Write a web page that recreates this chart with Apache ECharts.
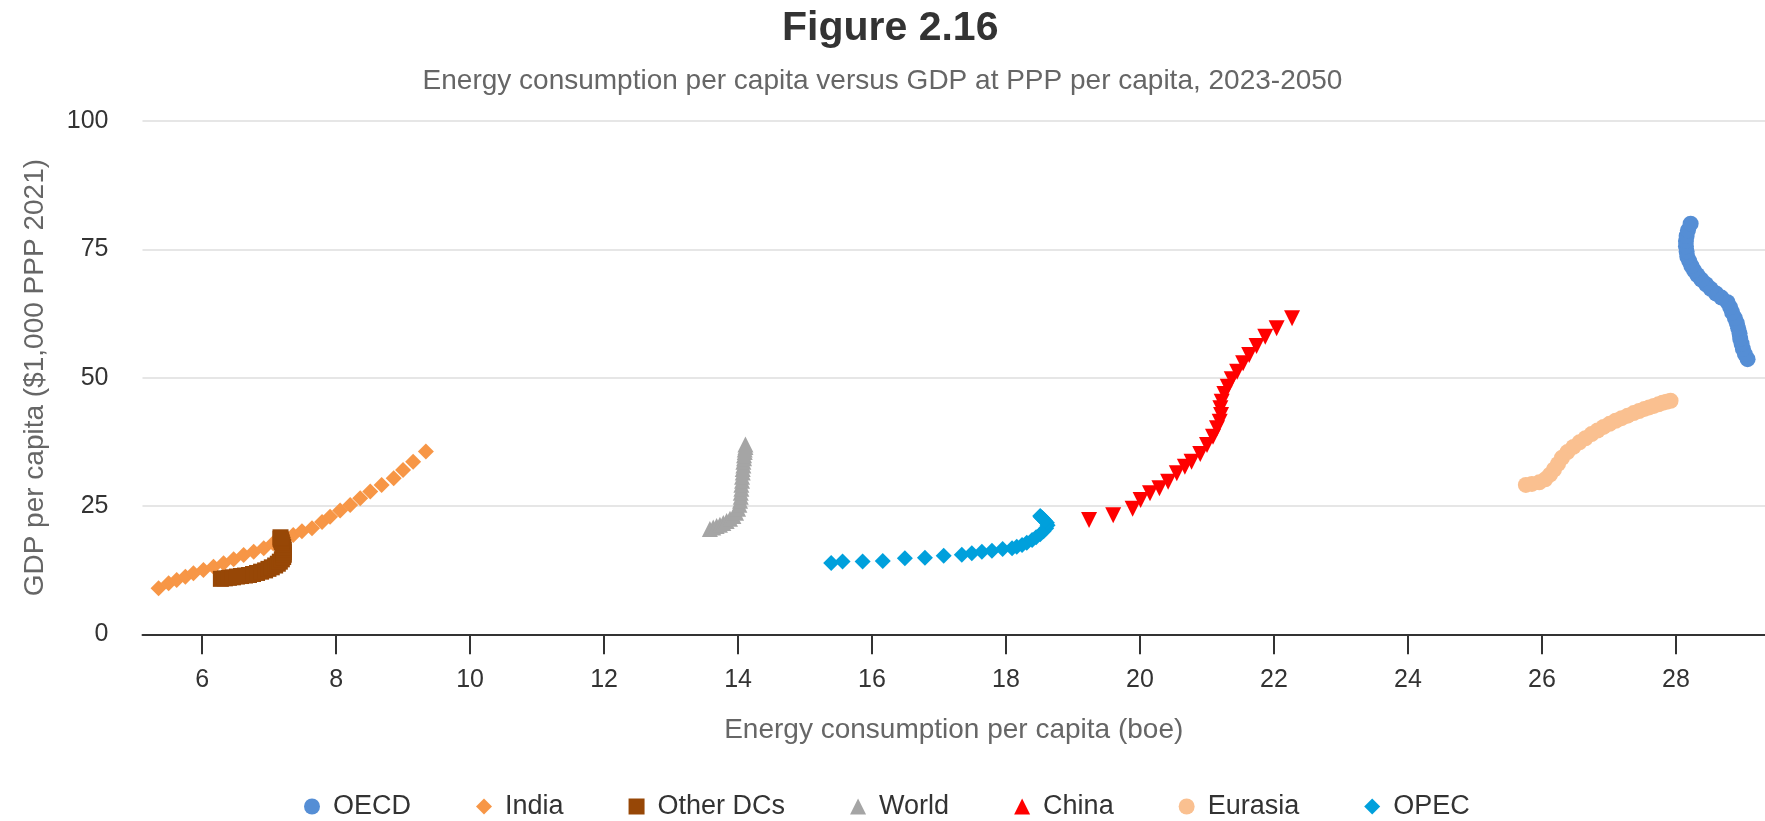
<!DOCTYPE html>
<html>
<head>
<meta charset="utf-8">
<script src="https://cdn.jsdelivr.net/npm/echarts@6/dist/echarts.min.js"></script>
<style>
html,body{margin:0;padding:0;background:#fff;}
#chart{width:1765px;height:821px;}
</style>
</head>
<body>
<div id="chart"></div>
<script>
// Series names (legend order)
const seriesNames = ['OECD', 'India', 'Other DCs', 'World', 'China', 'Eurasia', 'OPEC'];

// [energy per capita (boe), GDP per capita ($1,000 PPP 2021)], 2023-2050
const oecd = [[29.07,53.6],[29.03,54.6],[29.00,55.6],[28.98,56.6],[28.96,57.6],[28.95,58.6],[28.93,59.6],[28.91,60.6],[28.88,61.6],[28.84,62.7],[28.81,63.7],[28.77,64.7],[28.68,65.6],[28.60,66.4],[28.52,67.3],[28.45,68.2],[28.38,69.1],[28.32,70.0],[28.27,70.9],[28.23,71.8],[28.20,72.7],[28.17,73.6],[28.16,74.6],[28.15,75.6],[28.15,76.6],[28.16,77.6],[28.18,78.7],[28.22,80.0]];
const india = [[5.35,8.96],[5.50,9.93],[5.62,10.58],[5.75,11.23],[5.87,11.88],[6.02,12.53],[6.17,13.17],[6.32,13.83],[6.47,14.61],[6.62,15.45],[6.77,16.10],[6.92,16.75],[7.06,17.72],[7.21,18.70],[7.36,19.35],[7.49,20.10],[7.64,20.65],[7.79,21.90],[7.91,22.90],[8.06,24.10],[8.21,25.20],[8.36,26.50],[8.51,27.80],[8.68,29.10],[8.86,30.40],[9.00,32.00],[9.15,33.60],[9.34,35.60]];
const otherDCs = [[6.28,10.8],[6.34,10.9],[6.40,11.0],[6.46,11.1],[6.52,11.25],[6.58,11.35],[6.64,11.45],[6.70,11.55],[6.76,11.75],[6.82,11.95],[6.88,12.2],[6.94,12.45],[6.99,12.75],[7.04,13.05],[7.09,13.4],[7.13,13.75],[7.16,14.15],[7.19,14.6],[7.21,15.05],[7.22,15.5],[7.22,16.0],[7.22,16.5],[7.21,17.0],[7.20,17.45],[7.19,17.9],[7.18,18.3],[7.17,18.6],[7.17,18.9]];
const world = [[13.58,20.5],[13.63,20.8],[13.68,21.1],[13.73,21.35],[13.78,21.7],[13.83,22.05],[13.88,22.5],[13.93,23.05],[13.97,23.7],[14.00,24.45],[14.02,25.25],[14.03,26.0],[14.04,26.8],[14.04,27.6],[14.05,28.35],[14.05,29.15],[14.06,29.9],[14.06,30.7],[14.07,31.5],[14.07,32.2],[14.08,32.9],[14.08,33.6],[14.09,34.3],[14.09,34.9],[14.10,35.5],[14.10,36.0],[14.11,36.5],[14.11,37.0]];
const china = [[19.24,22.27],[19.60,23.18],[19.89,24.47],[20.01,26.16],[20.15,27.47],[20.29,28.44],[20.42,29.74],[20.55,31.37],[20.67,32.66],[20.77,33.63],[20.90,35.13],[21.00,36.88],[21.09,38.5],[21.15,40.13],[21.19,41.42],[21.21,42.72],[21.20,44.03],[21.22,45.32],[21.26,46.81],[21.31,48.24],[21.37,49.68],[21.45,51.16],[21.54,52.8],[21.63,54.41],[21.74,56.17],[21.87,57.98],[22.04,59.61],[22.27,61.56]];
const eurasia = [[25.76,29.1],[25.85,29.3],[25.96,29.6],[26.05,30.2],[26.12,31.1],[26.18,32.1],[26.24,33.2],[26.30,34.4],[26.38,35.5],[26.47,36.5],[26.56,37.4],[26.65,38.2],[26.74,39.0],[26.83,39.7],[26.92,40.4],[27.01,41.0],[27.10,41.6],[27.19,42.1],[27.28,42.6],[27.37,43.1],[27.45,43.5],[27.53,43.9],[27.60,44.2],[27.67,44.5],[27.74,44.8],[27.80,45.1],[27.86,45.3],[27.92,45.5]];
const opec = [[15.39,13.9],[15.56,14.2],[15.86,14.2],[16.16,14.3],[16.49,14.8],[16.79,14.9],[17.07,15.3],[17.34,15.5],[17.49,15.8],[17.64,16.1],[17.79,16.3],[17.95,16.6],[18.09,16.75],[18.16,17.07],[18.24,17.4],[18.31,17.85],[18.39,18.37],[18.45,18.9],[18.51,19.48],[18.56,20.07],[18.60,20.65],[18.62,21.24],[18.61,21.74],[18.58,22.13],[18.56,22.4],[18.54,22.66],[18.52,22.85],[18.51,23.05]];

// Tick labels
const xTicks = [6, 8, 10, 12, 14, 16, 18, 20, 22, 24, 26, 28];
const yTicks = [0, 25, 50, 75, 100];

const seriesData = [oecd, india, otherDCs, world, china, eurasia, opec];
const colors = ['#558ed5', '#f79646', '#974706', '#a5a5a5', '#ff0000', '#fac090', '#00a0dc'];
const symbols = ['circle', 'diamond', 'rect', 'triangle', 'triangle', 'circle', 'diamond'];
const rotations = [0, 0, 0, 0, 180, 0, 0];

const chart = echarts.init(document.getElementById('chart'), null, {renderer: 'canvas'});

const FONT = 'Liberation Sans, Arial, Helvetica, sans-serif';

chart.setOption({
  animation: false,
  backgroundColor: '#ffffff',
  textStyle: {fontFamily: FONT},
  title: [
    {text: 'Figure 2.16', left: 777, top: 3,
     textStyle: {fontFamily: FONT, fontSize: 41, fontWeight: 'bold', color: '#333333'}},
    {text: 'Energy consumption per capita versus GDP at PPP per capita, 2023-2050', left: 'center', top: 62,
     textStyle: {fontFamily: FONT, fontSize: 28, fontWeight: 'normal', color: '#666666'}}
  ],
  legend: {
    data: seriesNames,
    left: 299,
    top: 788,
    itemWidth: 16,
    itemHeight: 16,
    itemGap: 65,
    symbolRotate: 'inherit',
    textStyle: {fontFamily: FONT, fontSize: 27, color: '#333333', padding: [0, 0, 0, 8]}
  },
  grid: {left: 142.5, right: 0, top: 121, bottom: 186.7, containLabel: false, outerBoundsMode: 'none'},
  xAxis: {
    type: 'value',
    min: 5.11,
    max: 29.33,
    name: 'Energy consumption per capita (boe)',
    nameLocation: 'middle',
    nameGap: 82,
    nameTextStyle: {fontFamily: FONT, fontSize: 28, color: '#666666'},
    axisLine: {show: true, lineStyle: {color: '#333333', width: 2}},
    axisTick: {show: true, length: 20, lineStyle: {color: '#333333', width: 2}, customValues: xTicks},
    axisLabel: {fontFamily: FONT, fontSize: 25, color: '#333333', margin: 33, customValues: xTicks},
    splitLine: {show: false}
  },
  yAxis: {
    type: 'value',
    min: 0,
    max: 100,
    interval: 25,
    name: 'GDP per capita ($1,000 PPP 2021)',
    nameLocation: 'middle',
    nameGap: 93,
    nameTextStyle: {fontFamily: FONT, fontSize: 28, color: '#666666'},
    axisLine: {show: false},
    axisTick: {show: false},
    axisLabel: {fontFamily: FONT, fontSize: 25, color: '#333333', margin: 34, customValues: yTicks},
    splitLine: {show: true, lineStyle: {color: '#e6e6e6', width: 2}}
  },
  series: seriesNames.map((name, i) => ({
    name: name,
    type: 'scatter',
    data: seriesData[i],
    symbol: symbols[i],
    symbolSize: 16,
    symbolRotate: rotations[i],
    itemStyle: {color: colors[i], opacity: 1},
    emphasis: {disabled: true}
  }))
});
</script>
</body>
</html>
